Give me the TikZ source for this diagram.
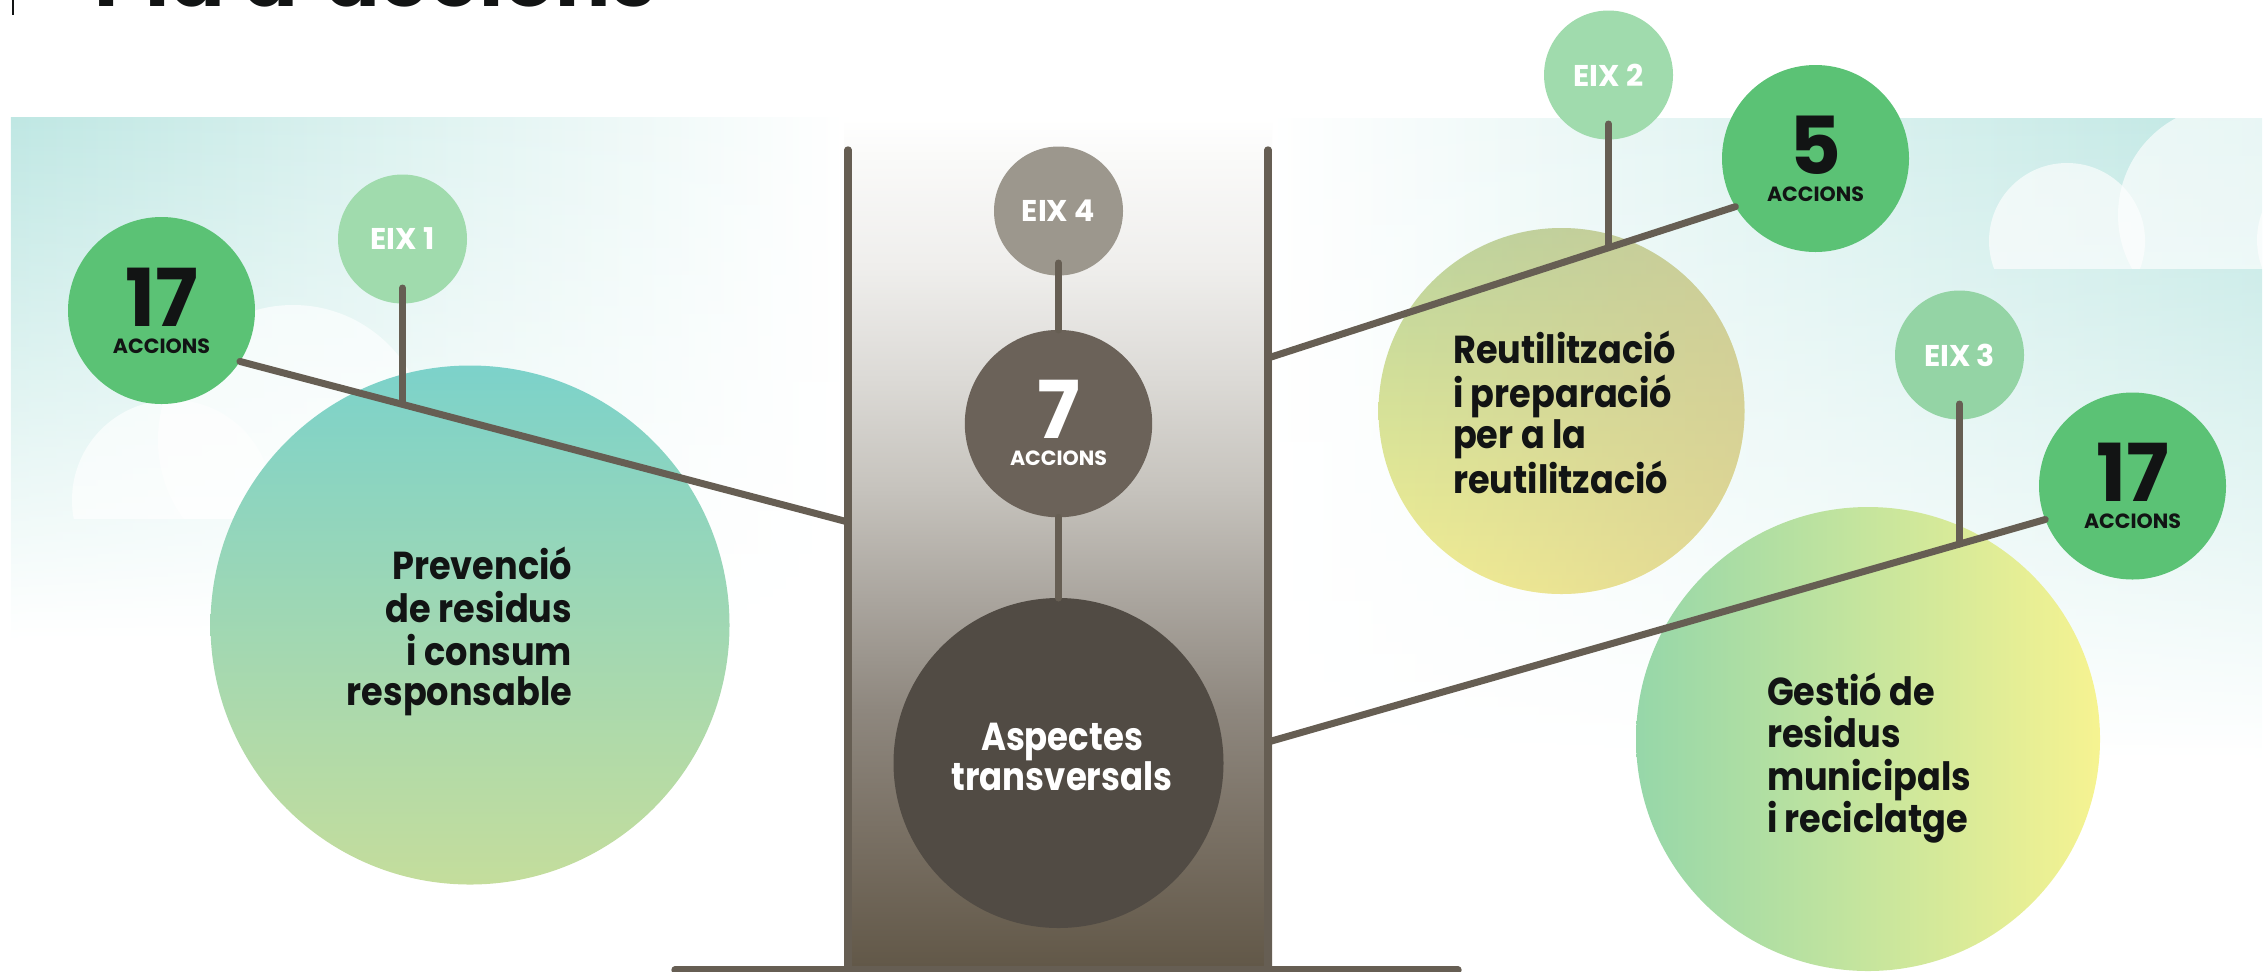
\documentclass[tikz,border=0pt]{standalone}
\usepackage{fontspec}
\setmainfont{Poppins}
\newfontfamily\condfont[FakeStretch=0.9]{Poppins}
\newfontfamily\aspfont[FakeStretch=0.87]{Poppins}
\usetikzlibrary{fadings,calc}
\definecolor{bgteal}{HTML}{BFE7E3}
\definecolor{linec}{HTML}{665E53}
\definecolor{greenA}{HTML}{5BC275}
\definecolor{eixg}{HTML}{A0DBAD}
\definecolor{eixgg}{HTML}{94D4A5}
\definecolor{eixgray}{HTML}{9C978D}
\definecolor{sevc}{HTML}{6B6259}
\definecolor{aspc}{HTML}{514B44}
\definecolor{txt}{HTML}{121414}
\definecolor{prevT}{HTML}{7CD2CA}
\definecolor{prevB}{HTML}{C4DD9C}
\definecolor{reuT}{HTML}{BAD49F}
\definecolor{reuB}{HTML}{F4F093}
\definecolor{reuR}{HTML}{D6C795}
\definecolor{gesL}{HTML}{96D7A9}
\definecolor{gesR}{HTML}{F6F391}
\definecolor{cb0}{HTML}{615747}
\definecolor{cb1}{HTML}{7B7266}
\definecolor{cb2}{HTML}{8E877E}
\definecolor{cb3}{HTML}{AAA59E}
\definecolor{cb4}{HTML}{C6C3BD}
\definecolor{cb5}{HTML}{DCDAD6}
\definecolor{cb6}{HTML}{EFEEEC}
\definecolor{cb7}{HTML}{FAFAF9}
\pgfdeclareverticalshading{colgrad}{100bp}{color(0bp)=(cb0); color(25bp)=(cb0); color(33.7bp)=(cb1); color(40.3bp)=(cb2); color(46.8bp)=(cb3); color(53.3bp)=(cb4); color(59.8bp)=(cb5); color(66.3bp)=(cb6); color(72.9bp)=(cb7); color(75bp)=(white); color(100bp)=(white)}
\newcommand\blocktxt[1]{\condfont\bfseries\fontsize{19.5}{#1}\selectfont}
\begin{document}
\begin{tikzpicture}[x=0.5pt, y=-0.5pt,
  trunk/.style={draw=linec, line width=3.7pt, line cap=round},
  branchline/.style={draw=linec, line width=3.5pt, line cap=round},
  bub/.style={circle, inner sep=0pt, outer sep=0pt, draw=none},
  acc/.style={bub, fill=greenA, minimum size=93.5pt},
  eix/.style={bub, minimum size=64.5pt, text=white, font=\bfseries\fontsize{15}{15}\selectfont},
  numtxt/.style={inner sep=0pt, font=\bfseries\fontsize{40}{40}\selectfont, text=txt},
  acctxt/.style={inner sep=0pt, font=\bfseries\fontsize{10.3}{11}\selectfont, text=txt},
  blk/.style={inner sep=0pt, text=txt},
  cloud/.style={fill=white, fill opacity=0.65}]
\useasboundingbox (0,0) rectangle (2263,971);
\begin{scope}
\clip (0,0) rectangle (2263,971);
% background panels
\shade[left color=bgteal, middle color=bgteal!35!white, right color=white, path fading=south] (11,118) rectangle (845,640);
\shade[left color=white, middle color=bgteal!35!white, right color=bgteal, path fading=south] (1270,118) rectangle (2263,760);
% clouds
\begin{scope}
\clip (0,118) rectangle (845,518);
\fill[cloud] (172,500) circle[radius=100];
\fill[cloud] (293,440) circle[radius=135];
\end{scope}
\begin{scope}
\clip (1270,118) rectangle (2263,268);
\fill[cloud] (2067,241) circle[radius=78];
\fill[cloud] (2228,215) circle[radius=110];
\fill[cloud] (2335,240) circle[radius=78];
\end{scope}
% central column
\shade[shading=colgrad] (844,119) rectangle (1272,971);
% title
\node[anchor=base west, inner sep=0pt, font=\bfseries\fontsize{41}{41}\selectfont, text=txt] (title) at (94,6) {Pla d'accions};
\coordinate (barT) at (13,-5);
\coordinate (barB) at (13,15);
\draw[txt, line width=1.4pt] (barT) -- (barB);
% trunks
\coordinate (tLtop) at (848,150);
\coordinate (tLbot) at (848,970);
\coordinate (tRtop) at (1268,150);
\coordinate (tRbot) at (1268,970);
\coordinate (baseL) at (675,970);
\coordinate (baseR) at (1458,970);
\draw[trunk] (tLtop) -- (tLbot);
\draw[trunk] (tRtop) -- (tRbot);
\draw[trunk] (baseL) -- (baseR);
% big circles
\node[bub, minimum size=259.5pt, top color=prevT, bottom color=prevB] (prev) at (470,625) {};
\node[bub, minimum size=183pt, top color=reuT, bottom color=reuB] (reu) at (1561.5,411) {};
\fill[reuR, path fading=west, fill opacity=0.6] (reu.center) circle[radius=183];
\node[bub, minimum size=232pt, left color=gesL, right color=gesR] (ges) at (1868,739) {};
\node[bub, minimum size=165pt, fill=aspc] (asp) at (1058.5,763) {};
% small circles
\node[acc] (a17L) at (161.5,310.5) {};
\node[acc] (a5) at (1815.5,158.5) {};
\node[acc] (a17R) at (2132.5,486) {};
\node[bub, fill=sevc, minimum size=93.7pt] (a7) at (1058.5,423.6) {};
\node[eix, fill=eixg] (e1) at (402.5,239) {EIX 1};
\node[eix, fill=eixg] (e2) at (1608.5,75) {EIX 2};
\node[eix, fill=eixgg] (e3) at (1959.5,355) {EIX 3};
\node[eix, fill=eixgray] (e4) at (1058.5,211) {EIX 4};
% branch junctions
\coordinate (jL) at (848,522);
\coordinate (jRu) at (1268,358);
\coordinate (jRl) at (1268,742);
\coordinate (s1) at (402.5,288);
\coordinate (k1) at (402.5,404);
\coordinate (s2) at (1608.5,124);
\coordinate (k2) at (1608.5,247);
\coordinate (s3) at (1959.5,404);
\coordinate (k3) at (1959.5,544);
\coordinate (s4) at (1058.5,263);
\draw[branchline] (a17L.-33) -- (jL);
\draw[branchline] (a5.211) -- (jRu);
\draw[branchline] (a17R.201) -- (jRl);
\draw[branchline] (s1) -- (k1);
\draw[branchline] (s2) -- (k2);
\draw[branchline] (s3) -- (k3);
\draw[branchline] (s4) -- (a7);
\draw[branchline] (a7) -- (asp);
% numbers
\node[numtxt] (n17L) at ($(a17L)+(0,-13.5)$) {17};
\node[acctxt] (c17L) at ($(a17L)+(0,35.5)$) {ACCIONS};
\node[numtxt] (n5) at ($(a5)+(0,-13.5)$) {5};
\node[acctxt] (c5) at ($(a5)+(0,35.5)$) {ACCIONS};
\node[numtxt] (n17R) at ($(a17R)+(0,-14)$) {17};
\node[acctxt] (c17R) at ($(a17R)+(0,35.5)$) {ACCIONS};
\node[numtxt, text=white] (n7) at ($(a7)+(0,-14.6)$) {7};
\node[acctxt, text=white] (c7) at ($(a7)+(0,34.4)$) {ACCIONS};
% texts
\node[blk, anchor=base east, font=\blocktxt{19.7}] (prevtxt) at (572.5,579) {\begin{tabular}[t]{@{}r@{}}Prevenció\\de residus\\i consum\\responsable\end{tabular}};
\node[blk, anchor=base west, font=\blocktxt{20}] (reutxt) at (1452.7,363.3) {\begin{tabular}[t]{@{}l@{}}Reutilització\\i preparació\\per a la\\reutilització\end{tabular}};
\node[blk, anchor=base west, font=\blocktxt{18.9}] (gestxt) at (1766.7,705) {\begin{tabular}[t]{@{}l@{}}Gestió de\\residus\\municipals\\i reciclatge\end{tabular}};
\node[blk, anchor=base, text=white, font=\aspfont\bfseries\fontsize{19.5}{19.5}\selectfont] (asptxt) at (1062,750) {\begin{tabular}[t]{@{}c@{}}Aspectes\\transversals\end{tabular}};
\end{scope}
\end{tikzpicture}
\end{document}
